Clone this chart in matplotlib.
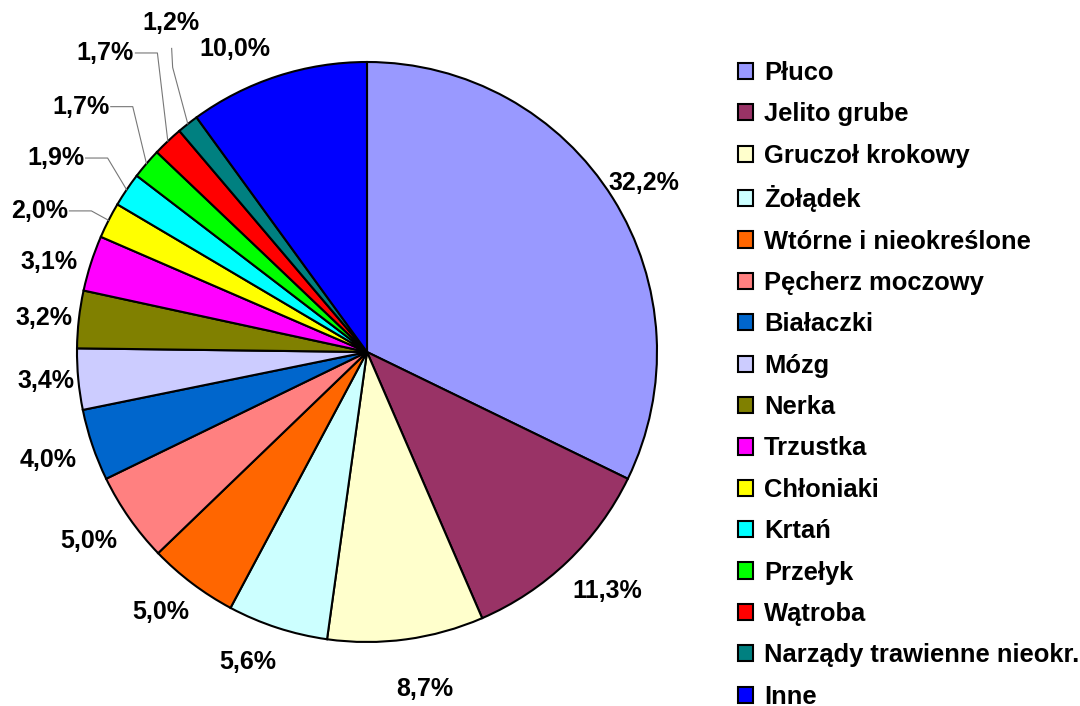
import numpy as np
import matplotlib
matplotlib.use('Agg')
import matplotlib.pyplot as plt

names = ['Płuco', 'Jelito grube', 'Gruczoł krokowy', 'Żołądek', 'Wtórne i nieokreślone',
         'Pęcherz moczowy', 'Białaczki', 'Mózg', 'Nerka', 'Trzustka', 'Chłoniaki', 'Krtań',
         'Przełyk', 'Wątroba', 'Narządy trawienne nieokr.', 'Inne']
values = [32.2, 11.3, 8.7, 5.6, 5.0, 5.0, 4.0, 3.4, 3.2, 3.1, 2.0, 1.9, 1.7, 1.7, 1.2, 10.0]
colors = ['#9999FF', '#993366', '#FFFFCC', '#CCFFFF', '#FF6600', '#FF8080', '#0066CC', '#CCCCFF',
          '#808000', '#FF00FF', '#FFFF00', '#00FFFF', '#00FF00', '#FF0000', '#008080', '#0000FF']

# label placement: radius (x pie radius), angle shift (deg), leader line kind
label_r = [1.12, 1.17, 1.18, 1.145, 1.145, 1.16, 1.16, 1.11, 1.12, 1.14, 1.23, 1.265, 1.30, 1.37, 1.32, 1.14]
label_da = [0.7, -1.4, -2.0, 3.0, 1.4, 0.8, 0.0, 0.3, -0.5, -2.0, -3.7, -2.1, 0.1, 2.2, 7.3, -5.6]
leader = [None] * 10 + ['side', 'side', 'side', 'side', 'up', None]

W, H = 1080, 706
cx, cy, R = 367, H - 352, 290

plt.rcParams['font.family'] = ['Liberation Sans', 'DejaVu Sans']
fig = plt.figure(figsize=(W / 100, H / 100), dpi=100)
ax = fig.add_axes([0, 0, 1, 1])

wedges, _ = ax.pie(values, colors=colors, startangle=90, counterclock=False,
                   center=(cx, cy), radius=R,
                   wedgeprops=dict(edgecolor='black', linewidth=1.5))
ax.set_xlim(0, W)
ax.set_ylim(0, H)
ax.set_aspect('equal')
ax.axis('off')


def polar(a, r):
    a = np.radians(a)
    return cx + r * np.sin(a), cy + r * np.cos(a)


cum = np.cumsum([0] + values)
for i, v in enumerate(values):
    mid = (cum[i] + cum[i + 1]) / 2 * 3.6
    tx, ty = polar(mid + label_da[i], label_r[i] * R)
    txt = f'{v:.1f}%'.replace('.', ',')
    ax.text(tx, ty, txt, ha='center', va='center', fontsize=18, fontweight='bold')
    ex, ey = polar(mid, R)
    if leader[i] == 'side':
        ax.plot([ex, tx + 52, tx + 30], [ey, ty, ty], color='#777777', lw=0.8)
    elif leader[i] == 'up':
        ax.plot([ex, tx + 2, tx + 1], [ey, ty - 44, ty - 25], color='#777777', lw=0.8)

ax.legend(wedges, names, loc='upper left', bbox_to_anchor=(738 / W, 1 - 61 / H),
          bbox_transform=fig.transFigure, frameon=False,
          prop=dict(size=18.4, weight='bold'),
          handlelength=0.6, handleheight=0.6, handletextpad=0.42,
          labelspacing=0.68, borderaxespad=0, borderpad=0)

fig.savefig('out.png', dpi=100)
